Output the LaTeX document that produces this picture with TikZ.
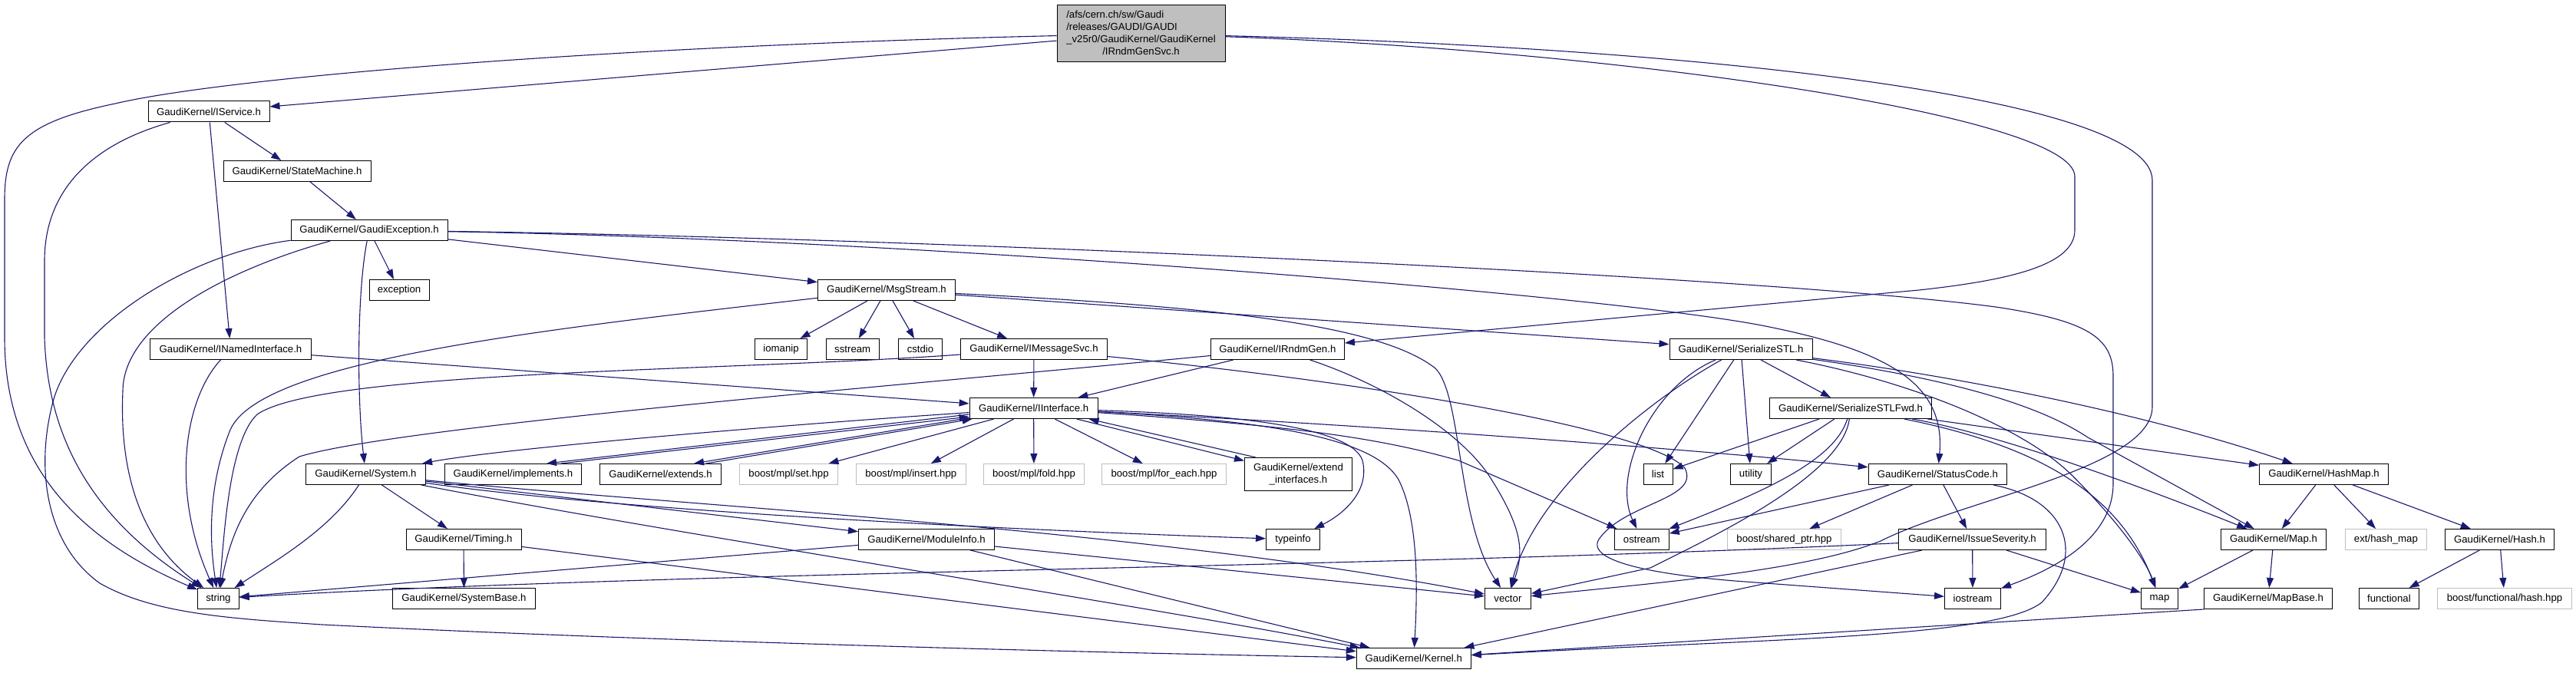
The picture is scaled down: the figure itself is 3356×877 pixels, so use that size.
\documentclass[tikz,border=0pt]{standalone}
\usepackage{fontspec}
\setmainfont{Liberation Sans}
\usetikzlibrary{arrows.meta,calc}
\definecolor{mblue}{HTML}{191970}
\definecolor{lgray}{HTML}{BFBFBF}
\begin{document}
\begin{tikzpicture}[x=1pt,y=-1pt,
  box/.style={draw=black,line width=1pt,fill=white,inner sep=0pt,minimum height=27pt,font=\fontsize{13.2}{16}\selectfont},
  gbox/.style={box,draw=lgray},
  dep/.style={draw=mblue,line width=1.1pt,-{Triangle[length=13pt,width=9pt]}}]
\fill[white] (0,0) rectangle (3356,877);
\useasboundingbox (0,0) rectangle (3356,877);
% ---------------- nodes ----------------
\node[box,fill=lgray,minimum width=219pt,minimum height=74pt] (root) at (1486.5,44)
  {\begin{tabular}{@{}l@{}}/afs/cern.ch/sw/Gaudi\\/releases/GAUDI/GAUDI\\\_v25r0/GaudiKernel/GaudiKernel\\\multicolumn{1}{@{}c@{}}{/IRndmGenSvc.h}\end{tabular}};
\node[box,minimum width=158pt] (iservice) at (272,145.5) {GaudiKernel/IService.h};
\node[box,minimum width=192pt] (statem) at (387,223) {GaudiKernel/StateMachine.h};
\node[box,minimum width=204pt] (gexc) at (481,300) {GaudiKernel/GaudiException.h};
\node[box,minimum width=78pt] (exception) at (520,378) {exception};
\node[box,minimum width=179pt] (msgstream) at (1155,378) {GaudiKernel/MsgStream.h};
\node[box,minimum width=210pt] (namedif) at (300.5,455) {GaudiKernel/INamedInterface.h};
\node[box,minimum width=68pt] (iomanip) at (1017.5,455) {iomanip};
\node[box,minimum width=69pt] (sstream) at (1110.7,455) {sstream};
\node[box,minimum width=57pt] (cstdio) at (1199,455) {cstdio};
\node[box,minimum width=191pt] (imsgsvc) at (1347,455) {GaudiKernel/IMessageSvc.h};
\node[box,minimum width=174pt] (irndmgen) at (1664.4,455) {GaudiKernel/IRndmGen.h};
\node[box,minimum width=186pt] (serstl) at (2268,455) {GaudiKernel/SerializeSTL.h};
\node[box,minimum width=167pt] (iinterface) at (1346.6,532) {GaudiKernel/IInterface.h};
\node[box,minimum width=211pt] (serfwd) at (2411,532) {GaudiKernel/SerializeSTLFwd.h};
\node[box,minimum width=156pt] (system) at (476.5,618) {GaudiKernel/System.h};
\node[box,minimum width=178pt] (implements) at (668.5,618) {GaudiKernel/implements.h};
\node[box,minimum width=158pt] (extends) at (860.5,618) {GaudiKernel/extends.h};
\node[gbox,minimum width=127.5pt] (mplset) at (1027.5,618) {boost/mpl/set.hpp};
\node[gbox,minimum width=143pt] (mplinsert) at (1186.8,618) {boost/mpl/insert.hpp};
\node[gbox,minimum width=131pt] (mplfold) at (1347,618) {boost/mpl/fold.hpp};
\node[gbox,minimum width=162pt] (mplforeach) at (1516.5,618) {boost/mpl/for\_each.hpp};
\node[box,minimum width=140pt,minimum height=43pt,align=center] (extendif) at (1691.5,618) {GaudiKernel/extend\\\_interfaces.h};
\node[box,minimum width=38pt] (list) at (2160,618) {list};
\node[box,minimum width=52.5pt] (utility) at (2281,618) {utility};
\node[box,minimum width=180.5pt] (statuscode) at (2524.4,618) {GaudiKernel/StatusCode.h};
\node[box,minimum width=168pt] (hashmap) at (3027.5,618) {GaudiKernel/HashMap.h};
\node[box,minimum width=150pt] (timing) at (604,703) {GaudiKernel/Timing.h};
\node[box,minimum width=177pt] (moduleinfo) at (1207,703) {GaudiKernel/ModuleInfo.h};
\node[box,minimum width=70pt] (typeinfo) at (1684.5,703) {typeinfo};
\node[box,minimum width=71pt] (ostream) at (2138.8,703) {ostream};
\node[gbox,minimum width=148pt] (sharedptr) at (2324.4,703) {boost/shared\_ptr.hpp};
\node[box,minimum width=191.6pt] (issuesev) at (2569.6,703) {GaudiKernel/IssueSeverity.h};
\node[box,minimum width=136.6pt] (maph) at (2962,703) {GaudiKernel/Map.h};
\node[gbox,minimum width=106pt] (exthashmap) at (3108.4,703) {ext/hash\_map};
\node[box,minimum width=142pt] (hash) at (3256.5,703) {GaudiKernel/Hash.h};
\node[box,minimum width=53.6pt] (strg) at (284.4,780) {string};
\node[box,minimum width=186pt] (systembase) at (604.5,780) {GaudiKernel/SystemBase.h};
\node[box,minimum width=60pt] (vec) at (1964.4,780) {vector};
\node[box,minimum width=73pt] (iostream) at (2570,780) {iostream};
\node[box,minimum width=48pt] (stdmap) at (2813.5,780) {map};
\node[box,minimum width=166.6pt] (mapbase) at (2955,780) {GaudiKernel/MapBase.h};
\node[box,minimum width=77.6pt] (functional) at (3112.4,780) {functional};
\node[gbox,minimum width=175pt] (boosthash) at (3263,780) {boost/functional/hash.hpp};
\node[box,minimum width=149pt] (kernel) at (1841.8,858) {GaudiKernel/Kernel.h};
% ---------------- edges ----------------
% root
\draw[dep] (root) -- (iservice);
\draw[dep] (root) .. controls (800,60) and (300,100) .. (150,135) .. controls (30,160) and (6,190) .. (6,260) -- (6,440) .. controls (6,620) and (120,710) .. (strg);
\draw[dep] (root) .. controls (2100,65) and (2703,150) .. (2703,230) -- (2703,300) .. controls (2703,345) and (2620,365) .. (2500,378) -- (irndmgen);
\draw[dep] (root) .. controls (2150,60) and (2804,120) .. (2804,235) -- (2804,530) .. controls (2804,610) and (2560,650) .. (2450,705) .. controls (2350,745) and (2150,760) .. (vec);
% IService
\draw[dep] (iservice) -- (statem);
\draw[dep] (iservice) -- (namedif);
\draw[dep] (iservice) .. controls (130,185) and (58,240) .. (58,340) -- (58,440) .. controls (62,560) and (110,670) .. (strg);
\draw[dep] (statem) -- (gexc);
% GaudiException
\draw[dep] (gexc) -- (exception);
\draw[dep] (gexc) -- (msgstream);
\draw[dep] (gexc) .. controls (465,380) and (465,520) .. (system);
\draw[dep] (gexc) .. controls (300,350) and (160,420) .. (160,510) .. controls (156,600) and (175,700) .. (strg);
\draw[dep] (gexc) .. controls (250,330) and (100,420) .. (70,520) .. controls (45,610) and (60,710) .. (130,760) .. controls (200,800) and (300,806) .. (420,814) .. controls (900,838) and (1500,852) .. (kernel);
\draw[dep] (gexc) .. controls (1200,310) and (2300,360) .. (2600,400) .. controls (2720,418) and (2753,440) .. (2753,490) -- (2753,630) .. controls (2753,700) and (2680,740) .. (iostream);
\draw[dep] (gexc) .. controls (1200,312) and (2100,385) .. (2300,425) .. controls (2460,457) and (2535,500) .. (statuscode);
% INamedInterface
\draw[dep] (namedif) -- (iinterface);
\draw[dep] (namedif) .. controls (240,520) and (222,640) .. (strg);
% MsgStream
\draw[dep] (msgstream) -- (iomanip);
\draw[dep] (msgstream) -- (sstream);
\draw[dep] (msgstream) -- (cstdio);
\draw[dep] (msgstream) -- (imsgsvc);
\draw[dep] (msgstream) -- (serstl);
\draw[dep] (msgstream) .. controls (1600,400) and (1800,425) .. (1870,480) .. controls (1905,515) and (1898,680) .. (vec);
\draw[dep] (msgstream) .. controls (700,430) and (340,470) .. (300,560) .. controls (272,630) and (272,700) .. (strg);
% IMessageSvc
\draw[dep] (imsgsvc) -- (iinterface);
\draw[dep] (imsgsvc) .. controls (950,484) and (420,482) .. (335,540) .. controls (298,575) and (292,700) .. (strg);
\draw[dep] (imsgsvc) .. controls (1800,500) and (2150,560) .. (2195,610) .. controls (2215,650) and (2120,655) .. (2085,700) .. controls (2060,730) and (2150,748) .. (2260,757) -- (iostream);
% IRndmGen
\draw[dep] (irndmgen) -- (iinterface);
\draw[dep] (irndmgen) .. controls (1200,500) and (520,555) .. (390,595) .. controls (320,640) and (300,700) .. (strg);
\draw[dep] (irndmgen) .. controls (1800,500) and (1900,560) .. (1940,620) .. controls (1985,690) and (1985,720) .. (vec);
% IInterface
\draw[dep] (iinterface) .. controls (1000,555) and (650,585) .. (system);
\draw[dep] ($(iinterface.west)+(0,8)$) -- ($(implements.north)+(43.5,0)$);
\draw[dep] ($(implements.north)+(62.5,0)$) -- ($(iinterface.west)+(0,11)$);
\draw[dep] ($(iinterface.west)+(0,12.5)$) -- ($(extends.north)+(43.5,0)$);
\draw[dep] ($(extends.north)+(59.5,0)$) -- ($(iinterface.south west)+(4,0)$);
\draw[dep] (iinterface) -- (mplset);
\draw[dep] (iinterface) -- (mplinsert);
\draw[dep] (iinterface) -- (mplfold);
\draw[dep] (iinterface) -- (mplforeach);
\draw[dep] (iinterface) -- (extendif);
\draw[dep] ($(extendif.north west)+(15,0)$) -- ($(iinterface.south east)+(-12,0)$);
\draw[dep] (iinterface) .. controls (1800,555) and (2200,585) .. (statuscode);
\draw[dep] (iinterface) .. controls (1600,540) and (1760,555) .. (1775,600) .. controls (1785,640) and (1750,670) .. (typeinfo);
\draw[dep] (iinterface) .. controls (1650,548) and (1790,570) .. (1822,625) .. controls (1850,680) and (1846,780) .. (kernel);
\draw[dep] (iinterface) .. controls (1700,556) and (1800,572) .. (1900,600) -- (ostream);
% System
\draw[dep] (system) .. controls (430,690) and (360,730) .. (strg);
\draw[dep] (system) -- (timing);
\draw[dep] (system) -- (moduleinfo);
\draw[dep] (system) .. controls (800,665) and (1300,690) .. (typeinfo);
\draw[dep] (system) .. controls (900,660) and (1500,690) .. (vec);
\draw[dep] (system) .. controls (900,700) and (1500,790) .. (kernel);
% Timing
\draw[dep] (timing) -- (systembase);
\draw[dep] (timing) -- (kernel);
% ModuleInfo
\draw[dep] (moduleinfo) -- (strg);
\draw[dep] (moduleinfo) -- (vec);
\draw[dep] (moduleinfo) -- (kernel);
% IssueSeverity
\draw[dep] (issuesev) .. controls (1800,740) and (900,744) .. (strg);
\draw[dep] (issuesev) -- (iostream);
\draw[dep] (issuesev) -- (stdmap);
\draw[dep] (issuesev) -- (kernel);
% StatusCode
\draw[dep] (statuscode) -- (issuesev);
\draw[dep] (statuscode) -- (ostream);
\draw[dep] (statuscode) -- (sharedptr);
\draw[dep] (statuscode) .. controls (2690,650) and (2720,720) .. (2660,785) .. controls (2600,832) and (2300,832) .. (kernel);
% SerializeSTL
\draw[dep] (serstl) -- (serfwd);
\draw[dep] (serstl) .. controls (2150,520) and (2000,640) .. (vec);
\draw[dep] (serstl) .. controls (2150,505) and (2100,620) .. (ostream);
\draw[dep] (serstl) -- (list);
\draw[dep] (serstl) -- (utility);
\draw[dep] (serstl) .. controls (2550,490) and (2800,540) .. (hashmap);
\draw[dep] (serstl) .. controls (2550,495) and (2660,530) .. (2720,570) -- (maph);
\draw[dep] (serstl) .. controls (2500,500) and (2640,560) .. (2700,620) .. controls (2760,680) and (2795,730) .. (stdmap);
% SerializeSTLFwd
\draw[dep] (serfwd) -- (list);
\draw[dep] (serfwd) -- (utility);
\draw[dep] (serfwd) .. controls (2390,600) and (2300,640) .. (ostream);
\draw[dep] (serfwd) .. controls (2400,620) and (2230,700) .. (2150,740) -- (vec);
\draw[dep] (serfwd) -- (hashmap);
\draw[dep] (serfwd) .. controls (2600,565) and (2780,630) .. (maph);
\draw[dep] (serfwd) .. controls (2650,580) and (2760,640) .. (stdmap);
% HashMap, Map, Hash, MapBase
\draw[dep] (hashmap) -- (maph);
\draw[dep] (hashmap) -- (exthashmap);
\draw[dep] (hashmap) -- (hash);
\draw[dep] (maph) -- (stdmap);
\draw[dep] (maph) -- (mapbase);
\draw[dep] (hash) -- (functional);
\draw[dep] (hash) -- (boosthash);
\draw[dep] (mapbase.south west) -- (kernel);
\end{tikzpicture}
\end{document}
